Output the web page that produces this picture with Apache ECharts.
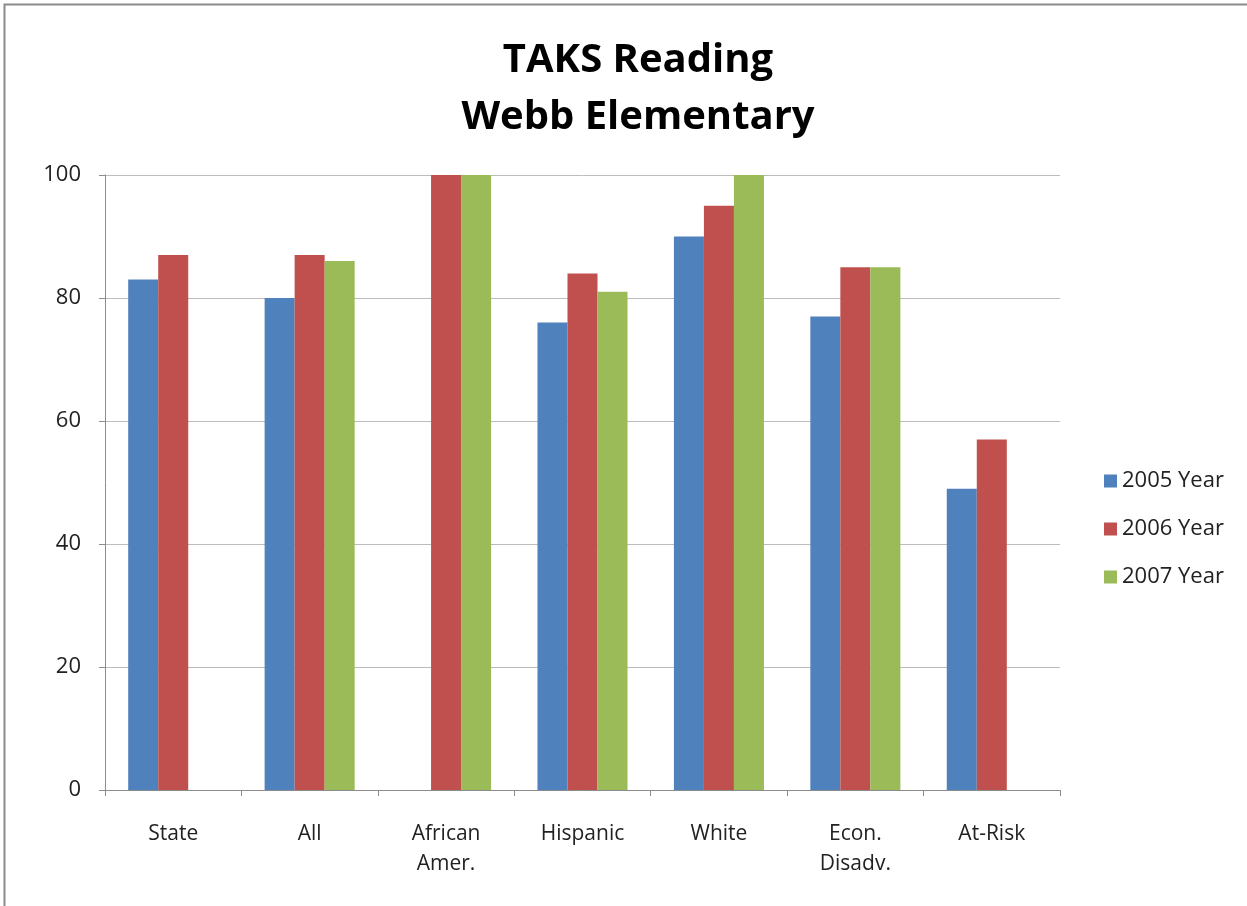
<!DOCTYPE html>
<html>
<head>
<meta charset="UTF-8">
<title>TAKS Reading</title>
<script src="https://cdn.jsdelivr.net/npm/echarts@6/dist/echarts.min.js"></script>
<style>
  html, body { margin: 0; padding: 0; background: #fff; }
  #main { width: 1247px; height: 906px; }
</style>
</head>
<body>
<div id="main"></div>
<script type="text/javascript">
// categories and scores
var categories = ['State', 'All', 'African\nAmer.', 'Hispanic', 'White', 'Econ.\nDisadv.', 'At-Risk'];
var year2005 = [83, 80, null, 76, 90, 77, 49];
var year2006 = [87, 87, 100, 84, 95, 85, 57];
var year2007 = [null, 86, 100, 81, 100, 85, null];
var yTicks = [0, 20, 40, 60, 80, 100];

var myChart = echarts.init(document.getElementById('main'));
var font = 'Open Sans, Liberation Sans, sans-serif';

function bar(name, data, color) {
  return {
    name: name,
    type: 'bar',
    data: data,
    barGap: '0%',
    barCategoryGap: '34%',
    itemStyle: { color: color },
    emphasis: { disabled: true }
  };
}

var option = {
  animation: false,
  backgroundColor: '#fff',
  title: {
    text: 'TAKS Reading\nWebb Elementary',
    left: 633,
    top: 27,
    textAlign: 'center',
    textStyle: { fontFamily: font, fontSize: 40, fontWeight: 'bold', color: '#000', lineHeight: 57 }
  },
  legend: {
    orient: 'vertical',
    left: 1099,
    top: 465,
    itemWidth: 13,
    itemHeight: 13,
    itemGap: 26,
    icon: 'rect',
    textStyle: { fontFamily: font, fontSize: 22, color: '#222' },
    data: ['2005 Year', '2006 Year', '2007 Year']
  },
  grid: { left: 105, right: 187, top: 175, bottom: 116 },
  xAxis: {
    type: 'category',
    data: categories,
    axisLine: { lineStyle: { color: '#8c8c8c', width: 1 } },
    axisTick: { show: true, length: 6, lineStyle: { color: '#8c8c8c' } },
    axisLabel: { fontFamily: font, fontSize: 21, color: '#222', margin: 29, lineHeight: 30 }
  },
  yAxis: {
    type: 'value',
    min: 0,
    max: 100,
    interval: 20,
    axisLine: { show: true, lineStyle: { color: '#8c8c8c', width: 1 } },
    axisTick: { show: true, length: 6, lineStyle: { color: '#8c8c8c' } },
    splitLine: { lineStyle: { color: '#bcbcbc', width: 1 } },
    axisLabel: {
      fontFamily: font, fontSize: 22, color: '#222', margin: 24,
      formatter: function (v) { return yTicks.indexOf(v) >= 0 ? String(v) : ''; }
    }
  },
  graphic: [{
    type: 'rect',
    left: 2,
    top: 2,
    shape: { width: 1260, height: 920 },
    style: { fill: 'none', stroke: '#8a8a8a', lineWidth: 2 },
    silent: true
  }],
  series: [
    bar('2005 Year', year2005, '#4F81BD'),
    bar('2006 Year', year2006, '#C0504D'),
    bar('2007 Year', year2007, '#9BBB59')
  ]
};

myChart.setOption(option);
</script>
</body>
</html>
